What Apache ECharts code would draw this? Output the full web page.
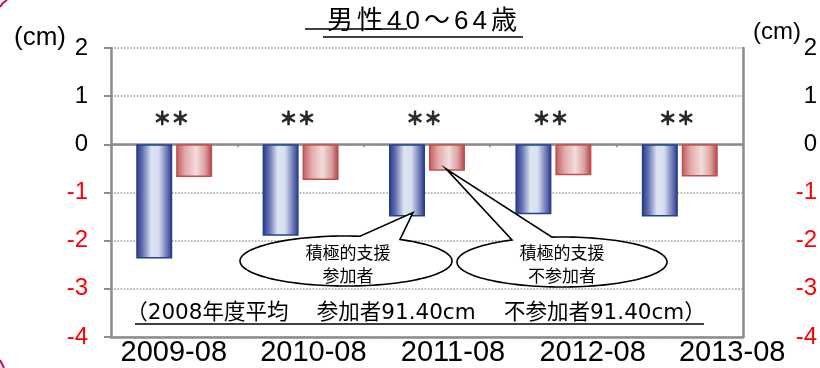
<!DOCTYPE html>
<html>
<head>
<meta charset="utf-8">
<script src="https://cdn.jsdelivr.net/npm/echarts@6/dist/echarts.min.js"></script>
<style>
  html, body { margin: 0; padding: 0; background: #fff; }
  #chart { width: 820px; height: 368px; }
</style>
</head>
<body>
<div id="chart"></div>
<script>
// Waist circumference change from the FY2008 baseline, men aged 40-64
const categories = ['2009-08', '2010-08', '2011-08', '2012-08', '2013-08'];
const participants = [-2.37, -1.90, -1.50, -1.45, -1.50];      // 積極的支援 参加者
const nonParticipants = [-0.68, -0.74, -0.55, -0.64, -0.67];   // 積極的支援 不参加者
const significance = ['＊＊', '＊＊', '＊＊', '＊＊', '＊＊'];
const yMin = -4, yMax = 2, yStep = 1;
const titleText = '男性40～64歳';
const noteText = '（2008年度平均　 参加者91.40cm　 不参加者91.40cm）';

const FONT = "'Liberation Sans', Arial, 'Noto Sans CJK JP', sans-serif";
const NOTE_FONT = "'DejaVu Sans', 'Noto Sans CJK JP', sans-serif";
const GRID_LINE = '#8c8c8c';
const STAR_Y = 0.55;

const chart = echarts.init(document.getElementById('chart'));

const blueFill = new echarts.graphic.LinearGradient(0, 0, 1, 0, [
  { offset: 0, color: '#26358a' },
  { offset: 0.18, color: '#6571b2' },
  { offset: 0.42, color: '#dde5f3' },
  { offset: 0.62, color: '#d6def0' },
  { offset: 0.88, color: '#5f6bae' },
  { offset: 1, color: '#2a3488' }
]);
const redFill = new echarts.graphic.LinearGradient(0, 0, 1, 0, [
  { offset: 0, color: '#c2585b' },
  { offset: 0.25, color: '#e3a9aa' },
  { offset: 0.55, color: '#f3dcdc' },
  { offset: 0.8, color: '#dca0a2' },
  { offset: 1, color: '#ad3f43' }
]);

const labelColor = v => (Number(v) < 0 ? '#ff0000' : '#000000');

chart.setOption({
  animation: false,
  textStyle: { fontFamily: FONT },
  grid: [
    { left: 111, right: 76, top: 48, bottom: 31 },
    { left: 104, right: 18, top: 48, bottom: 31 }
  ],
  xAxis: [
    { // axis through zero with category ticks
      type: 'category', data: categories, gridIndex: 0,
      axisLine: { onZero: true, lineStyle: { color: GRID_LINE, width: 2.5 } },
      axisTick: { show: true, length: 3, lineStyle: { color: GRID_LINE, width: 1.5 } },
      axisLabel: { show: false }
    },
    { // bottom frame of the plot
      type: 'category', data: categories, gridIndex: 0, position: 'bottom',
      axisLine: { onZero: false, lineStyle: { color: GRID_LINE, width: 2.5 } },
      axisTick: { show: false }, axisLabel: { show: false }
    },
    { // period labels
      type: 'category', data: categories, gridIndex: 1, position: 'bottom',
      axisLine: { show: false, onZero: false }, axisTick: { show: false },
      axisLabel: { color: '#000', fontSize: 29, fontFamily: FONT, margin: 4 }
    }
  ],
  yAxis: [
    {
      type: 'value', gridIndex: 0, min: yMin, max: yMax, interval: yStep,
      axisLine: { show: true, lineStyle: { color: GRID_LINE, width: 2.5 } },
      axisTick: { show: true, length: 7, lineStyle: { color: GRID_LINE, width: 2 } },
      axisLabel: { fontSize: 24, fontFamily: FONT, margin: 23, color: labelColor },
      splitLine: { show: true, lineStyle: { color: '#9a9a9a', type: 'dotted', width: 1.6 } }
    },
    {
      type: 'value', gridIndex: 0, position: 'right', min: yMin, max: yMax, interval: yStep,
      axisLine: { show: true, lineStyle: { color: GRID_LINE, width: 2.5 } },
      axisTick: { show: false },
      axisLabel: { fontSize: 24, fontFamily: FONT, margin: 74, align: 'right', color: labelColor },
      splitLine: { show: false }
    },
    { type: 'value', gridIndex: 1, min: yMin, max: yMax, show: false }
  ],
  series: [
    {
      name: '積極的支援参加者', type: 'bar', xAxisIndex: 0, yAxisIndex: 0,
      data: participants, barWidth: 36, barGap: '11%',
      itemStyle: { color: blueFill, borderColor: '#22418a', borderWidth: 1.5 }
    },
    {
      name: '積極的支援不参加者', type: 'bar', xAxisIndex: 0, yAxisIndex: 0,
      data: nonParticipants, barWidth: 36, barGap: '11%',
      itemStyle: { color: redFill, borderColor: '#c0504d', borderWidth: 1.5 }
    },
    {
      name: 'significance', type: 'scatter', xAxisIndex: 0, yAxisIndex: 0,
      symbolSize: 0, silent: true,
      data: categories.map((c, i) => ({ value: [c, STAR_Y], mark: significance[i] })),
      label: {
        show: true, position: 'inside', offset: [-3, 0], color: '#000', fontSize: 18, fontWeight: 'bold',
        fontFamily: "'Noto Sans CJK JP', sans-serif",
        textBorderColor: '#000', textBorderWidth: 0.9,
        formatter: p => p.data.mark
      }
    }
  ]
});

// Speech-bubble outline: ellipse with a wedge pointing at a bar
function callout(cx, cy, rx, ry, bx1, bx2, tip) {
  const t1 = -Math.acos((bx1 - cx) / rx);
  const t2 = -Math.acos((bx2 - cx) / rx);
  const pts = [];
  const n = 120;
  for (let i = 0; i <= n; i++) {
    const t = t2 + (t1 + 2 * Math.PI - t2) * i / n;
    pts.push([cx + rx * Math.cos(t), cy + ry * Math.sin(t)]);
  }
  pts.push(tip);
  return {
    type: 'polygon', z: 100, shape: { points: pts },
    style: { fill: '#ffffff', stroke: '#000000', lineWidth: 1.6 }
  };
}
function bubbleText(x, y, text) {
  return {
    type: 'text', z: 101, x: x, y: y,
    style: {
      text: text, fill: '#000', fontSize: 17, lineHeight: 23,
      fontFamily: "'Noto Sans CJK JP', sans-serif", align: 'center', verticalAlign: 'middle'
    }
  };
}
// Spaced-out rich text: each character gets a little side padding
function spaced(str) {
  return Array.from(str).map(ch => '{c|' + ch + '}').join('');
}

const half = 20;
const bluePt = chart.convertToPixel({ xAxisIndex: 0, yAxisIndex: 0 }, [2, participants[2]]);
const redPt = chart.convertToPixel({ xAxisIndex: 0, yAxisIndex: 0 }, [2, nonParticipants[2]]);
const tipA = [bluePt[0] - half + 6, bluePt[1] - 4];
const tipB = [redPt[0] + half - 1, redPt[1] - 2];

chart.setOption({
  graphic: { elements: [
    { // title
      type: 'text', x: 422, y: 22, z: 50,
      style: {
        text: spaced(titleText), fill: '#000', fontSize: 26, fontFamily: FONT,
        align: 'center', verticalAlign: 'middle',
        rich: { c: { fontSize: 26, fontFamily: FONT, padding: [0, 2], fill: '#000' } }
      }
    },
    { type: 'line', z: 51, shape: { x1: 323, y1: 37, x2: 523, y2: 37 }, style: { stroke: '#000', lineWidth: 1.5 } },
    { type: 'line', z: 51, shape: { x1: 305, y1: 29, x2: 407, y2: 29 }, style: { stroke: '#000', lineWidth: 1.3 } },
    { // unit labels
      type: 'text', x: 40, y: 38,
      style: { text: '(cm)', fill: '#000', fontSize: 26, fontFamily: FONT, align: 'center', verticalAlign: 'middle' }
    },
    {
      type: 'text', x: 777, y: 32,
      style: { text: '(cm)', fill: '#000', fontSize: 24, fontFamily: FONT, align: 'center', verticalAlign: 'middle' }
    },
    callout(346, 261, 106, 25, 360, 400, tipA),
    bubbleText(348, 264, '積極的支援\n参加者'),
    callout(562, 262, 105, 25, 512, 552, tipB),
    bubbleText(562, 264, '積極的支援\n不参加者'),
    { // baseline note
      type: 'text', x: 416, y: 313, z: 60,
      style: {
        text: noteText, fill: '#000', fontSize: 21.5,
        fontFamily: NOTE_FONT, align: 'center', verticalAlign: 'middle'
      }
    },
    { type: 'line', z: 60, shape: { x1: 135, y1: 324, x2: 704, y2: 324 }, style: { stroke: '#000', lineWidth: 1.5 } },
    { // red frame fragments at the left edge
      type: 'polyline', shape: { points: [[0, 7], [3, 3], [7, 0]] }, style: { stroke: '#d0103a', lineWidth: 2 }
    },
    {
      type: 'polyline', shape: { points: [[0, 360], [2, 364], [4, 368]] }, style: { stroke: '#d0103a', lineWidth: 2 }
    }
  ] }
});
</script>
</body>
</html>
